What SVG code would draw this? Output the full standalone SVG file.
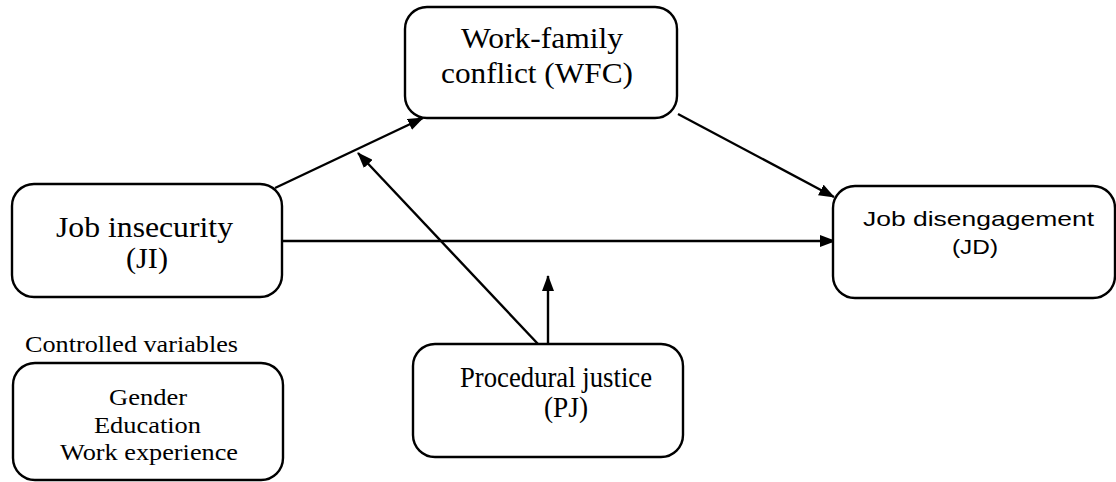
<svg xmlns="http://www.w3.org/2000/svg" width="1116" height="482" viewBox="0 0 1116 482">
<style>
.box{fill:#fff;stroke:#000;stroke-width:2.4}
.t{font-family:"Liberation Serif","Times New Roman",serif;font-size:30px;fill:#000}
.s{font-family:"Liberation Serif","Times New Roman",serif;font-size:24px;fill:#000}
.a{font-family:"Liberation Sans",Arial,sans-serif;font-size:21px;fill:#000}
.c{stroke:#000;stroke-width:2.4;fill:none;marker-end:url(#ah)}
</style>
<defs>
<marker id="ah" viewBox="0 0 16 12" refX="15" refY="6" markerWidth="16" markerHeight="12" markerUnits="userSpaceOnUse" orient="auto">
<path d="M0,0 L16,6 L0,12 z" fill="#000"/>
</marker>
</defs>
<rect width="1116" height="482" fill="#fff"/>
<g id="connectors">
<line class="c" x1="275" y1="188" x2="423" y2="118"/>
<line class="c" x1="678" y1="114" x2="834" y2="197"/>
<line class="c" x1="283" y1="241" x2="835" y2="241"/>
<line class="c" x1="538" y1="344" x2="358" y2="153"/>
<line class="c" x1="548" y1="344" x2="548" y2="276"/>
</g>
<g id="wfc">
<rect class="box" x="405" y="7" width="272" height="111" rx="22"/>
<text class="t" x="461" y="48" textLength="162" lengthAdjust="spacingAndGlyphs">Work-family</text>
<text class="t" x="441" y="83" textLength="192" lengthAdjust="spacingAndGlyphs">conflict (WFC)</text>
</g>
<g id="ji">
<rect class="box" x="12" y="184" width="270" height="113" rx="22"/>
<text class="t" x="56" y="237" textLength="177" lengthAdjust="spacingAndGlyphs">Job insecurity</text>
<text class="t" x="126" y="268" textLength="42" lengthAdjust="spacingAndGlyphs">(JI)</text>
</g>
<g id="jd">
<rect class="box" x="833" y="186" width="282" height="112" rx="22"/>
<text class="a" x="863" y="226" textLength="231" lengthAdjust="spacingAndGlyphs">Job disengagement</text>
<text class="a" x="952" y="254" textLength="46" lengthAdjust="spacingAndGlyphs">(JD)</text>
</g>
<g id="pj">
<rect class="box" x="413" y="344" width="270" height="113" rx="22"/>
<text class="t" x="460" y="387" textLength="192" lengthAdjust="spacingAndGlyphs">Procedural justice</text>
<text class="t" x="544" y="417" textLength="44" lengthAdjust="spacingAndGlyphs">(PJ)</text>
</g>
<g id="controls">
<text class="s" x="25" y="352" textLength="213" lengthAdjust="spacingAndGlyphs">Controlled variables</text>
<rect class="box" x="13" y="363" width="270" height="117" rx="22"/>
<text class="s" x="109" y="405" textLength="78" lengthAdjust="spacingAndGlyphs">Gender</text>
<text class="s" x="94" y="433" textLength="107" lengthAdjust="spacingAndGlyphs">Education</text>
<text class="s" x="60" y="460" textLength="178" lengthAdjust="spacingAndGlyphs">Work experience</text>
</g>
</svg>
